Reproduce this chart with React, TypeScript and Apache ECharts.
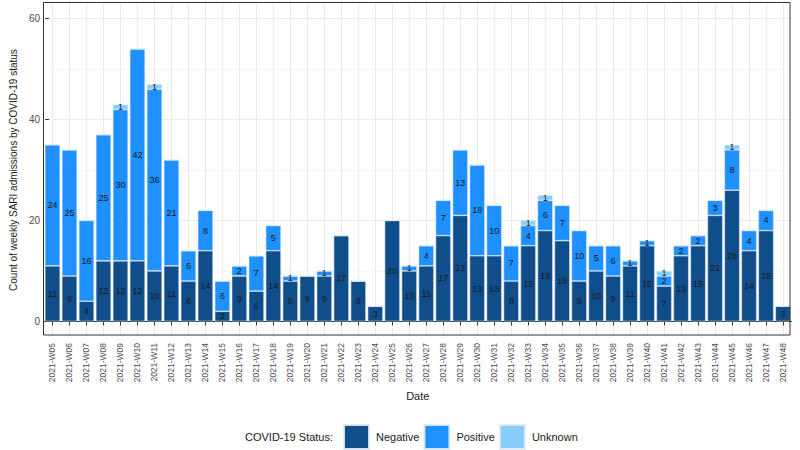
import React, { useEffect, useRef } from "react";
import * as echarts from "echarts";

const weeks = [
  "2021-W05","2021-W06","2021-W07","2021-W08","2021-W09","2021-W10","2021-W11","2021-W12",
  "2021-W13","2021-W14","2021-W15","2021-W16","2021-W17","2021-W18","2021-W19","2021-W20",
  "2021-W21","2021-W22","2021-W23","2021-W24","2021-W25","2021-W26","2021-W27","2021-W28",
  "2021-W29","2021-W30","2021-W31","2021-W32","2021-W33","2021-W34","2021-W35","2021-W36",
  "2021-W37","2021-W38","2021-W39","2021-W40","2021-W41","2021-W42","2021-W43","2021-W44",
  "2021-W45","2021-W46","2021-W47","2021-W48",
];

const negative = [
  11, 9, 4, 12, 12, 12, 10, 11, 8, 14, 2, 9, 6, 14, 8, 9,
  9, 17, 8, 3, 20, 10, 11, 17, 21, 13, 13, 8, 15, 18, 16, 8,
  10, 9, 11, 15, 7, 13, 15, 21, 26, 14, 18, 3,
];

const positive = [
  24, 25, 16, 25, 30, 42, 36, 21, 6, 8, 6, 2, 7, 5, 1, 0,
  1, 0, 0, 0, 0, 1, 4, 7, 13, 18, 10, 7, 4, 6, 7, 10,
  5, 6, 1, 1, 2, 2, 2, 3, 8, 4, 4, 0,
];

const unknown = [
  0, 0, 0, 0, 1, 0, 1, 0, 0, 0, 0, 0, 0, 0, 0, 0,
  0, 0, 0, 0, 0, 0, 0, 0, 0, 0, 0, 0, 1, 1, 0, 0,
  0, 0, 0, 0, 1, 0, 0, 0, 1, 0, 0, 0,
];

const yTicks = [0, 20, 40, 60];

const statusNames = ["Negative", "Positive", "Unknown"];
const statusColors = ["#104E8B", "#1E90FF", "#87CEFA"];

const FONT = "'Liberation Sans', Arial, sans-serif";

export default function App() {
  const ref = useRef<HTMLDivElement>(null);

  useEffect(() => {
    if (!ref.current) return;
    const chart = echarts.init(ref.current, undefined, { renderer: "svg" });
    const seriesData = [negative, positive, unknown];

    const option: any = {
      animation: false,
      backgroundColor: "#ffffff",
      textStyle: { fontFamily: FONT },
      grid: [
        { left: 44, right: 8.5, top: 2, bottom: 115, containLabel: false },
        { left: 43, right: 10, top: 18.7, bottom: 128.6, containLabel: false },
        { left: 52.5, right: 17, top: 2, bottom: 115, containLabel: false },
      ],
      xAxis: [
        {
          type: "category",
          gridIndex: 0,
          data: weeks,
          name: "Date",
          nameLocation: "middle",
          nameGap: 50,
          nameTextStyle: { fontSize: 11, color: "#1a1a1a", fontFamily: FONT },
          axisLine: { show: true, lineStyle: { color: "#333333", width: 1 } },
          axisTick: { show: true, alignWithLabel: true, length: 4, lineStyle: { color: "#333333" } },
          axisLabel: {
            rotate: 90,
            interval: 0,
            fontSize: 8.5,
            color: "#4d4d4d",
            margin: 8,
            fontFamily: FONT,
          },
          splitLine: { show: false },
        },
        { type: "value", gridIndex: 1, min: 0, max: 1, show: false },
        {
          type: "value",
          gridIndex: 2,
          min: 0,
          max: weeks.length - 1,
          interval: 1,
          axisLine: { show: false },
          axisTick: { show: false },
          axisLabel: { show: false },
          splitLine: { show: true, lineStyle: { color: "#ebebeb", width: 1.2 } },
        },
      ],
      yAxis: [
        { type: "value", gridIndex: 0, min: -2.7, max: 63.3, show: false },
        {
          type: "value",
          gridIndex: 1,
          min: yTicks[0],
          max: yTicks[yTicks.length - 1],
          interval: 20,
          name: "Count of weekly SARI admissions by COVID-19 status",
          nameLocation: "middle",
          nameGap: 23,
          nameTextStyle: { fontSize: 10, color: "#1a1a1a", fontFamily: FONT },
          axisLine: { show: false },
          axisTick: { show: true, length: 4, lineStyle: { color: "#333333" } },
          axisLabel: { fontSize: 10, color: "#4d4d4d", margin: 9, fontFamily: FONT },
          splitLine: { show: true, lineStyle: { color: "#ebebeb", width: 1.2 } },
          minorTick: { show: false, splitNumber: 2 },
          minorSplitLine: { show: true, lineStyle: { color: "#f4f4f4", width: 0.8 } },
        },
        { type: "value", gridIndex: 2, min: 0, max: 1, show: false },
      ],
      legend: {
        data: statusNames,
        left: 343,
        top: 424,
        padding: 0,
        icon: "rect",
        itemWidth: 25,
        itemHeight: 24,
        itemGap: 4,
        selectedMode: false,
        textStyle: { fontSize: 11, color: "#1a1a1a", fontFamily: FONT, padding: [0, 0, 0, 2] },
      },
      graphic: [
        {
          type: "text",
          left: 245,
          top: 431,
          style: { text: "COVID-19 Status:", fontSize: 11, fill: "#1a1a1a", fontFamily: FONT },
        },
        {
          type: "rect",
          z: 100,
          shape: { x: 43.5, y: 2.5, width: 746.5, height: 332.5 },
          style: { fill: "none", stroke: "#333333", lineWidth: 1 },
          silent: true,
        },
      ],
      series: statusNames.map((name, i) => ({
        name,
        type: "bar",
        stack: "total",
        xAxisIndex: 0,
        yAxisIndex: 0,
        barWidth: "90%",
        data: seriesData[i],
        itemStyle: { color: statusColors[i], borderColor: "rgba(225,235,245,0.9)", borderWidth: 0.6 },
        label: {
          show: true,
          position: "inside",
          fontSize: 9,
          color: "#1a1a1a",
          fontFamily: FONT,
          formatter: (p: any) => (p.value ? String(p.value) : ""),
        },
      })),
    };

    chart.setOption(option);
    return () => chart.dispose();
  }, []);

  return (
    <div
      ref={ref}
      style={{ position: "absolute", left: 0, top: 0, width: 800, height: 450 }}
    />
  );
}
